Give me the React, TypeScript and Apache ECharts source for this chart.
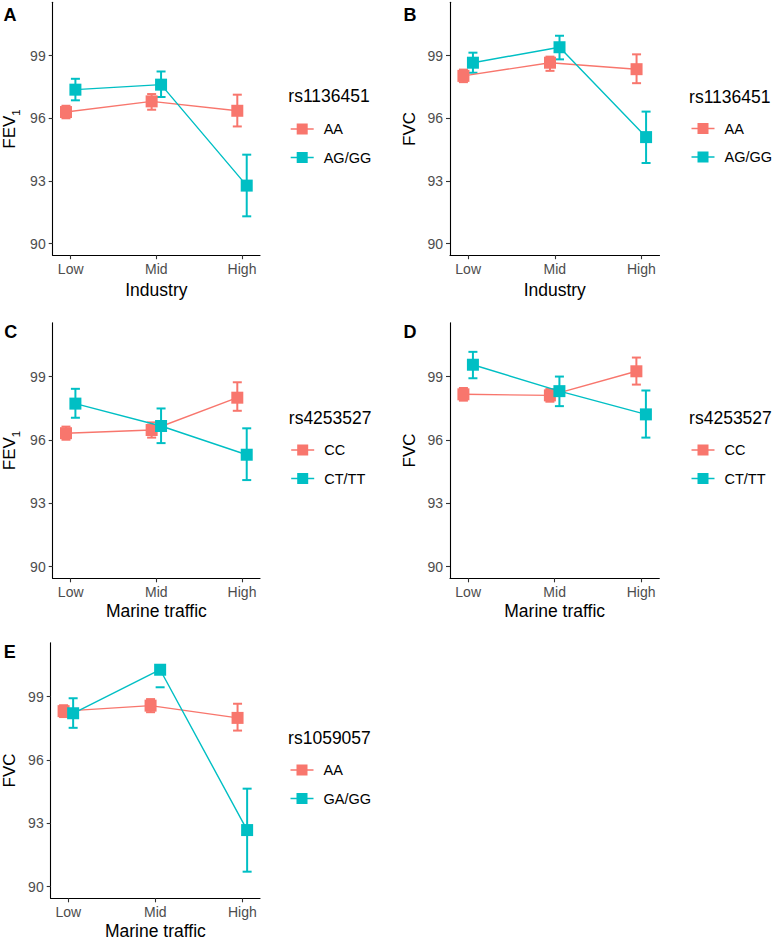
import React, { useEffect, useRef } from "react";
import * as echarts from "echarts";

// ---------- data ----------
const levels = ["Low", "Mid", "High"];
const yTickValues = [90, 93, 96, 99];
const colors = ["#F8766D", "#00BFC4"];

// Panel A: FEV1 vs Industry, rs1136451
const aGroups = ["AA", "AG/GG"];
const aMean1 = [96.3, 96.81, 96.36];
const aLow1 = [96.0, 96.41, 95.61];
const aHigh1 = [96.6, 97.16, 97.13];
const aMean2 = [97.37, 97.61, 92.78];
const aLow2 = [96.86, 97.02, 91.31];
const aHigh2 = [97.89, 98.24, 94.26];

// Panel B: FVC vs Industry, rs1136451
const bGroups = ["AA", "AG/GG"];
const bMean1 = [98.03, 98.66, 98.35];
const bLow1 = [97.73, 98.27, 97.68];
const bHigh1 = [98.33, 98.95, 99.06];
const bMean2 = [98.66, 99.4, 95.1];
const bLow2 = [98.18, 98.82, 93.86];
const bHigh2 = [99.14, 99.95, 96.32];

// Panel C: FEV1 vs Marine traffic, rs4253527
const cGroups = ["CC", "CT/TT"];
const cMean1 = [96.32, 96.47, 98.0];
const cLow1 = [96.01, 96.11, 97.38];
const cHigh1 = [96.63, 96.83, 98.73];
const cMean2 = [97.72, 96.66, 95.3];
const cLow2 = [97.05, 95.85, 94.1];
const cHigh2 = [98.42, 97.49, 96.55];

// Panel D: FVC vs Marine traffic, rs4253527
const dGroups = ["CC", "CT/TT"];
const dMean1 = [98.16, 98.11, 99.25];
const dLow1 = [97.86, 97.81, 98.62];
const dHigh1 = [98.46, 98.41, 99.9];
const dMean2 = [99.56, 98.31, 97.21];
const dLow2 = [98.92, 97.6, 96.11];
const dHigh2 = [100.17, 99.0, 98.34];

// Panel E: FVC vs Marine traffic, rs1059057
const eGroups = ["AA", "GA/GG"];
const eMean1 = [98.31, 98.57, 97.99];
const eLow1 = [98.03, 98.26, 97.39];
const eHigh1 = [98.59, 98.88, 98.66];
const eMean2 = [98.21, 100.27, 92.68];
const eLow2 = [97.52, 99.44, 90.71];
const eHigh2: (number | null)[] = [98.92, null, 94.64];

// ---------- layout ----------
const FONT = "Liberation Sans, Arial, Helvetica, sans-serif";
const Y_MIN = 89.45;
const Y_MAX = 101.55;
const DODGE = 0.055;

type Panel = {
  letter: string;
  letterPos: [number, number];
  yTitle: string;
  yTitlePos: [number, number];
  xTitle: string;
  xTitleY: number;
  snp: string;
  groups: string[];
  means: number[][];
  lows: (number | null)[][];
  highs: (number | null)[][];
  grid: [number, number, number, number];
  xRange: [number, number];
  legendLeft: number;
  legendTop: number;
  legendTitleY: number;
};

const panels: Panel[] = [
  {
    letter: "A", letterPos: [10, 15], yTitle: "FEV1", yTitlePos: [10, 129],
    xTitle: "Industry", xTitleY: 290, snp: "rs1136451", groups: aGroups,
    means: [aMean1, aMean2], lows: [aLow1, aLow2], highs: [aHigh1, aHigh2],
    grid: [52.7, 2.3, 207.3, 252.9], xRange: [0.79, 3.21],
    legendLeft: 290.7, legendTop: 121.5, legendTitleY: 96,
  },
  {
    letter: "B", letterPos: [410, 15], yTitle: "FVC", yTitlePos: [410, 129],
    xTitle: "Industry", xTitleY: 290, snp: "rs1136451", groups: bGroups,
    means: [bMean1, bMean2], lows: [bLow1, bLow2], highs: [bHigh1, bHigh2],
    grid: [450, 2.3, 209.5, 252.9], xRange: [0.79, 3.21],
    legendLeft: 691.5, legendTop: 121, legendTitleY: 96.5,
  },
  {
    letter: "C", letterPos: [10.8, 331.7], yTitle: "FEV1", yTitlePos: [10, 450.5],
    xTitle: "Marine traffic", xTitleY: 611, snp: "rs4253527", groups: cGroups,
    means: [cMean1, cMean2], lows: [cLow1, cLow2], highs: [cHigh1, cHigh2],
    grid: [52.7, 322.7, 207.3, 255.6], xRange: [0.79, 3.21],
    legendLeft: 291.2, legendTop: 442.5, legendTitleY: 418.3,
  },
  {
    letter: "D", letterPos: [410, 331.7], yTitle: "FVC", yTitlePos: [410, 450.5],
    xTitle: "Marine traffic", xTitleY: 611, snp: "rs4253527", groups: dGroups,
    means: [dMean1, dMean2], lows: [dLow1, dLow2], highs: [dHigh1, dHigh2],
    grid: [450, 322.7, 209.3, 255.6], xRange: [0.79, 3.21],
    legendLeft: 691.5, legendTop: 442.5, legendTitleY: 418.3,
  },
  {
    letter: "E", letterPos: [9.7, 651.7], yTitle: "FVC", yTitlePos: [9.7, 770.5],
    xTitle: "Marine traffic", xTitleY: 931, snp: "rs1059057", groups: eGroups,
    means: [eMean1, eMean2], lows: [eLow1, eLow2], highs: [eHigh1, eHigh2],
    grid: [50.7, 642.7, 209.3, 255.6], xRange: [0.797, 3.203],
    legendLeft: 290.5, legendTop: 762.5, legendTitleY: 738.3,
  },
];

const legendIcon = "path://M0,4.75H6V0H17V4.75H23V6.25H17V11H6V6.25H0Z";

function buildOption() {
  const grid: any[] = [];
  const xAxis: any[] = [];
  const yAxis: any[] = [];
  const series: any[] = [];
  const legend: any[] = [];
  const graphic: any[] = [];

  panels.forEach((p, i) => {
    grid.push({ left: p.grid[0], top: p.grid[1], width: p.grid[2], height: p.grid[3], containLabel: false });
    xAxis.push({
      type: "value",
      gridIndex: i,
      min: p.xRange[0],
      max: p.xRange[1],
      axisLine: { show: true, onZero: false, lineStyle: { color: "#000", width: 1.1 } },
      axisTick: { show: true, customValues: [1, 2, 3], length: 4, lineStyle: { color: "#333", width: 1.1 } },
      axisLabel: {
        customValues: [1, 2, 3],
        formatter: (v: number) => levels[Math.round(v) - 1] ?? "",
        fontSize: 14,
        color: "#4D4D4D",
        fontFamily: FONT,
        margin: 7,
      },
      splitLine: { show: false },
    });
    yAxis.push({
      type: "value",
      gridIndex: i,
      min: Y_MIN,
      max: Y_MAX,
      axisLine: { show: true, onZero: false, lineStyle: { color: "#000", width: 1.1 } },
      axisTick: { show: true, customValues: yTickValues, length: 4, lineStyle: { color: "#333", width: 1.1 } },
      axisLabel: {
        customValues: yTickValues,
        fontSize: 14,
        color: "#4D4D4D",
        fontFamily: FONT,
        margin: 7,
      },
      splitLine: { show: false },
    });

    // error bars first (underneath)
    p.groups.forEach((g, gi) => {
      const off = gi === 0 ? -DODGE : DODGE;
      const lows = p.lows[gi];
      const highs = p.highs[gi];
      const color = colors[gi];
      series.push({
        type: "custom",
        name: `${p.letter}-err-${g}`,
        xAxisIndex: i,
        yAxisIndex: i,
        z: 2,
        silent: true,
        data: levels.map((_, k) => [k + 1 + off, lows[k] ?? 0, highs[k] ?? 0]),
        renderItem: (params: any, api: any) => {
          const k = params.dataIndex;
          const x = k + 1 + off;
          const lo = lows[k];
          const hi = highs[k];
          const half = 4.5;
          const children: any[] = [];
          const st = { stroke: color, lineWidth: 2, lineCap: "butt" };
          const pLo = lo != null ? api.coord([x, lo]) : null;
          const pHi = hi != null ? api.coord([x, hi]) : null;
          if (pLo && pHi) {
            children.push({ type: "line", shape: { x1: pLo[0], y1: pLo[1], x2: pHi[0], y2: pHi[1] }, style: st });
          }
          if (pLo) {
            children.push({ type: "line", shape: { x1: pLo[0] - half, y1: pLo[1], x2: pLo[0] + half, y2: pLo[1] }, style: st });
          }
          if (pHi) {
            children.push({ type: "line", shape: { x1: pHi[0] - half, y1: pHi[1], x2: pHi[0] + half, y2: pHi[1] }, style: st });
          }
          return { type: "group", children };
        },
      });
    });

    p.groups.forEach((g, gi) => {
      const off = gi === 0 ? -DODGE : DODGE;
      series.push({
        type: "line",
        name: g,
        xAxisIndex: i,
        yAxisIndex: i,
        z: 3 + gi,
        silent: true,
        symbol: "rect",
        symbolSize: 12,
        showSymbol: true,
        lineStyle: { color: colors[gi], width: 1.4 },
        itemStyle: { color: colors[gi] },
        data: p.means[gi].map((m, k) => [k + 1 + off, m]),
      });
    });

    legend.push({
      orient: "vertical",
      left: p.legendLeft,
      top: p.legendTop,
      padding: 0,
      itemGap: 13.5,
      itemWidth: 23,
      itemHeight: 11,
      selectedMode: false,
      icon: legendIcon,
      data: p.groups,
      formatter: (name: string) => `{t|${name}}`,
      textStyle: {
        fontFamily: FONT,
        color: "#000",
        rich: { t: { fontSize: 14.5, fontFamily: FONT, color: "#000", lineHeight: 15, padding: [0, 0, 0, 5] } },
      },
    });

    // panel letter
    graphic.push({
      type: "text",
      x: p.letterPos[0],
      y: p.letterPos[1],
      style: { text: p.letter, fontSize: 18, fontWeight: "bold", fontFamily: FONT, fill: "#000", align: "center", verticalAlign: "middle" },
    });
    // y title
    const yText = p.yTitle === "FEV1" ? "{a|FEV}{b|1}" : "{a|FVC}";
    graphic.push({
      type: "text",
      x: p.yTitlePos[0],
      y: p.yTitlePos[1],
      rotation: Math.PI / 2,
      style: {
        text: yText,
        align: "center",
        verticalAlign: "middle",
        fill: "#000",
        rich: {
          a: { fontSize: 17, fontFamily: FONT, fill: "#000", lineHeight: 18, verticalAlign: "top" },
          b: { fontSize: 11.5, fontFamily: FONT, fill: "#000", lineHeight: 12, verticalAlign: "top", padding: [9, 0, 0, 0] },
        },
      },
    });
    // x title
    graphic.push({
      type: "text",
      x: p.grid[0] + p.grid[2] / 2,
      y: p.xTitleY,
      style: { text: p.xTitle, fontSize: 17.5, fontFamily: FONT, fill: "#000", align: "center", verticalAlign: "middle" },
    });
    // legend title
    graphic.push({
      type: "text",
      x: p.legendLeft - 2.4,
      y: p.legendTitleY,
      style: { text: p.snp, fontSize: 17.5, fontFamily: FONT, fill: "#000", align: "left", verticalAlign: "middle" },
    });
  });

  return {
    animation: false,
    backgroundColor: "#fff",
    textStyle: { fontFamily: FONT },
    grid,
    xAxis,
    yAxis,
    legend,
    series,
    graphic,
  };
}

export default function App() {
  const ref = useRef<HTMLDivElement>(null);
  useEffect(() => {
    if (!ref.current) return;
    const chart = echarts.init(ref.current, undefined, { renderer: "svg" });
    chart.setOption(buildOption());
    return () => chart.dispose();
  }, []);
  return (
    <div
      ref={ref}
      style={{ position: "absolute", left: 0, top: 0, width: 780, height: 940, background: "#fff" }}
    />
  );
}
